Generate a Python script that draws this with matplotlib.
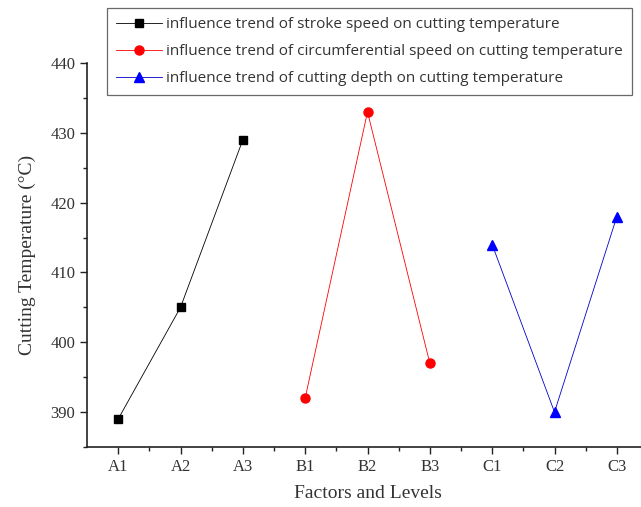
import matplotlib.pyplot as plt
from matplotlib.ticker import MultipleLocator

levels = ["A1", "A2", "A3", "B1", "B2", "B3", "C1", "C2", "C3"]
stroke_temp = [389, 405, 429]
circ_temp = [392, 433, 397]
depth_temp = [414, 390, 418]

SERIF = "Liberation Serif"
SANS = "Open Sans"

fig = plt.figure(figsize=(6.41, 5.07), dpi=100)
W, H = 641, 507
left, right, bottom, top = 87, 648, 447, 63
ax = fig.add_axes([left / W, 1 - bottom / H, (right - left) / W, (bottom - top) / H])

x = list(range(1, 10))
ax.plot(x[0:3], stroke_temp, color="black", lw=0.6, marker="s", ms=6,
        label="influence trend of stroke speed on cutting temperature")
ax.plot(x[3:6], circ_temp, color="red", lw=0.6, marker="o", ms=6.5,
        label="influence trend of circumferential speed on cutting temperature")
ax.plot(x[6:9], depth_temp, color="#0000cc", lw=0.6, marker="^", ms=7, mfc="blue", mec="blue",
        label="influence trend of cutting depth on cutting temperature")

ax.set_xlim(0.5, 9.5)
ax.set_ylim(385, 440)
ax.set_xticks(x)
ax.set_xticklabels(levels)
ax.xaxis.set_minor_locator(plt.FixedLocator([i + 0.5 for i in range(1, 9)]))
ax.yaxis.set_major_locator(MultipleLocator(10))
ax.yaxis.set_minor_locator(MultipleLocator(5))

for s in ("top", "right"):
    ax.spines[s].set_visible(False)
for s in ("left", "bottom"):
    ax.spines[s].set_linewidth(1.2)
    ax.spines[s].set_color("#222222")
ax.tick_params(which="major", direction="out", length=5, width=1.0, labelsize=12,
               colors="#222222")
ax.tick_params(which="minor", direction="out", length=3, width=1.0, colors="#222222")
for lab in ax.get_xticklabels() + ax.get_yticklabels():
    lab.set_fontfamily(SERIF)
    lab.set_color("#333333")

ax.set_xlabel("Factors and Levels", fontfamily=SERIF, fontsize=14, labelpad=7, color="#333333")
ax.set_ylabel("Cutting Temperature (°C)", fontfamily=SERIF, fontsize=14, labelpad=10, color="#333333")

leg = ax.legend(loc="upper left", bbox_to_anchor=(107 / W, 1 - 8 / H), bbox_transform=fig.transFigure,
                prop={"family": SANS, "size": 11}, frameon=True, fancybox=False,
                handlelength=3.0, handletextpad=0.25, labelspacing=0.78, borderpad=0.6,
                borderaxespad=0)
leg.get_frame().set_edgecolor("#444444")
leg.get_frame().set_linewidth(0.9)
for t in leg.get_texts():
    t.set_color("#333333")

fig.savefig("out.png", dpi=100)
